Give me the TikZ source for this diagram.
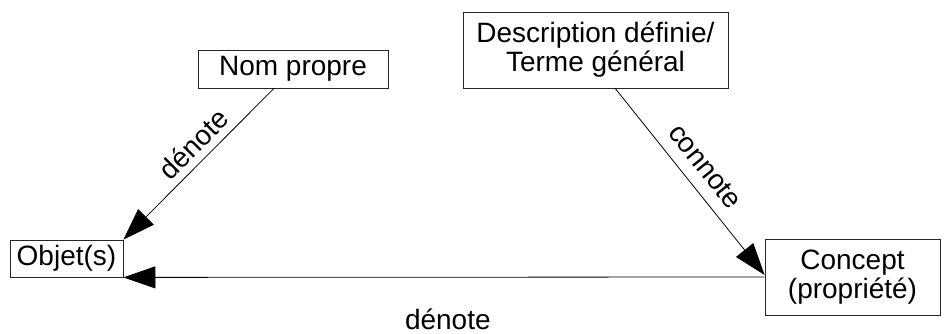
\documentclass[tikz,border=0pt]{standalone}
\usepackage{fontspec}
\setmainfont{Liberation Sans}
\usetikzlibrary{arrows.meta,calc}
\tikzset{
  box/.style={draw=black!85, line width=0.8pt, inner sep=0pt, align=center},
  lbl/.style={inner sep=2pt},
}
\begin{document}
\begin{tikzpicture}[x=1pt,y=-1pt,>={Triangle[length=32pt,width=22pt]},line width=0.8pt,
    font=\fontsize{28}{29}\selectfont]
  \useasboundingbox (0,0) rectangle (944,334);
  \node[box,minimum width=113pt,minimum height=37pt] (obj) at (66.5,258.5) {Objet(s)};
  \node[box,minimum width=190pt,minimum height=38pt] (nom) at (293,69) {Nom propre};
  \node[box,minimum width=265pt,minimum height=76pt] (desc) at (595.5,50) {Description définie/\\Terme général};
  \node[box,minimum width=175pt,minimum height=76pt] (conc) at (852.5,277) {Concept\\(propriété)};
  % arrows
  \draw[->] ($(nom.south west)!0.4!(nom.south east)$) -- (obj.north east)
    node[lbl,pos=0.45,sloped,above=5pt] (den1) {dénote};
  \draw[->] ($(desc.south west)!0.574!(desc.south east)$) -- ($(conc.west)+(0,-2)$)
    node[lbl,pos=0.49,sloped,above=10pt] (con) {connote};
  \draw[->] (conc.west) -- (obj.south east)
    node[lbl,pos=0.494,below=29pt] (den2) {dénote};
\end{tikzpicture}
\end{document}
